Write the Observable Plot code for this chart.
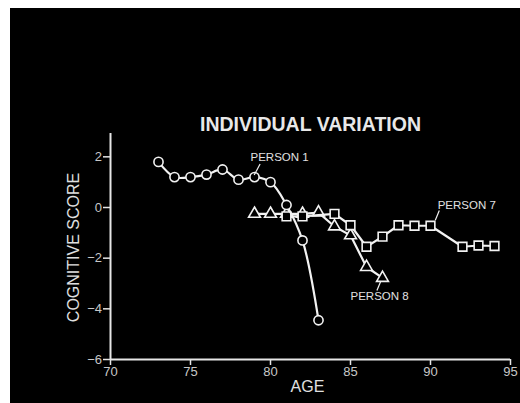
<!DOCTYPE html>
<html>
<head>
<meta charset="utf-8">
<script src="https://cdn.jsdelivr.net/npm/d3@7"></script>
<script src="https://cdn.jsdelivr.net/npm/@observablehq/plot@0.6"></script>
<style>
  html, body { margin: 0; padding: 0; background: #ffffff; width: 520px; height: 403px; overflow: hidden; }
  #panel { position: absolute; left: 10px; top: 8px; width: 510px; height: 395px; background: #000; }
  #panel svg { display: block; }
</style>
</head>
<body>
<div id="panel"></div>
<script>
// Data
const p1Age = [73, 74, 75, 76, 77, 78, 79, 80, 81, 82, 83];
const p1Score = [1.8, 1.2, 1.2, 1.3, 1.5, 1.1, 1.2, 1.0, 0.1, -1.3, -4.45];

const p7Age = [81, 82, 84, 85, 86, 87, 88, 89, 90, 92, 93, 94];
const p7Score = [-0.35, -0.35, -0.25, -0.7, -1.55, -1.15, -0.7, -0.72, -0.72, -1.55, -1.5, -1.52];

const p8Age = [79, 80, 81, 82, 83, 84, 85, 86, 87];
const p8Score = [-0.25, -0.25, -0.25, -0.25, -0.2, -0.75, -1.1, -2.35, -2.78];

const xTicks = [70, 75, 80, 85, 90, 95];
const yTicks = [-6, -4, -2, 0, 2];

const labelNames = ["PERSON 1", "PERSON 7", "PERSON 8"];
const labelAge = [78.75, 90.45, 85.0];
const labelScore = [1.97, 0.08, -3.52];
const leaderAge1 = [79.35, 90.55, 86.9];
const leaderScore1 = [1.72, -0.12, -2.9];
const leaderAge2 = [78.98, 90.3, 86.65];
const leaderScore2 = [1.28, -0.5, -3.28];

const toRows = (ages, scores) => ages.map((a, i) => ({age: a, score: scores[i]}));
const p1 = toRows(p1Age, p1Score);
const p7 = toRows(p7Age, p7Score);
const p8 = toRows(p8Age, p8Score);
const labels = labelNames.map((n, i) => ({name: n, age: labelAge[i], score: labelScore[i]}));
const leaders = labelNames.map((n, i) => ({x1: leaderAge1[i], y1: leaderScore1[i], x2: leaderAge2[i], y2: leaderScore2[i]}));

const W = "#f2f2f2";
const font = "'Liberation Sans', Arial, Helvetica, sans-serif";

const chart = Plot.plot({
  width: 510,
  height: 395,
  marginLeft: 100,
  marginRight: 10,
  marginTop: 123,
  marginBottom: 44,
  style: {background: "#000", fontFamily: font, color: W},
  x: {domain: [70, 95]},
  y: {domain: [-6, 3]},
  marks: [
    Plot.axisX({ticks: xTicks, tickSize: 6, tickPadding: 1, fontSize: 13, fill: "#c8c8c8", stroke: "#e6e6e6", strokeWidth: 1.5, label: null}),
    Plot.axisY({ticks: yTicks, tickSize: 7, tickPadding: 1.5, fontSize: 13, fill: "#c8c8c8", stroke: "#e6e6e6", strokeWidth: 1.5, label: null}),
    Plot.ruleY([-6], {stroke: "#e6e6e6", strokeWidth: 2}),
    Plot.ruleX([70], {y1: -6, y2: 2.92, stroke: "#e6e6e6", strokeWidth: 2}),
    // Person 8
    Plot.line(p8, {x: "age", y: "score", stroke: W, strokeWidth: 2.2}),
    Plot.dot(p8, {x: "age", y: "score", symbol: "triangle", r: 4.4, stroke: W, strokeWidth: 1.6, fill: "#000"}),
    // Person 7
    Plot.line(p7, {x: "age", y: "score", stroke: W, strokeWidth: 2.2}),
    Plot.dot(p7, {x: "age", y: "score", symbol: "square", r: 4.9, stroke: W, strokeWidth: 1.6, fill: "#000"}),
    // Person 1
    Plot.line(p1, {x: "age", y: "score", stroke: W, strokeWidth: 2.2, curve: "catmull-rom"}),
    Plot.dot(p1, {x: "age", y: "score", symbol: "circle", r: 4.6, stroke: W, strokeWidth: 1.6, fill: "#000"}),
    // annotations
    Plot.link(leaders, {x1: "x1", y1: "y1", x2: "x2", y2: "y2", stroke: W, strokeWidth: 1.2}),
    Plot.text(labels, {x: "age", y: "score", text: "name", textAnchor: "start", fontSize: 11.5, fill: "#e0e0e0"}),
    // titles
    Plot.text(["INDIVIDUAL VARIATION"], {frameAnchor: "top", textAnchor: "middle", dy: -14, fontSize: 19.5, fontWeight: "bold", fill: "#e8e8e8"}),
    Plot.text(["COGNITIVE SCORE"], {frameAnchor: "left", textAnchor: "middle", dx: -37, dy: 2, rotate: -90, fontSize: 16, fill: "#e0e0e0"}),
    Plot.text(["AGE"], {frameAnchor: "bottom", textAnchor: "middle", dy: 32, dx: -3, fontSize: 16, fill: "#e0e0e0"})
  ]
});
document.getElementById("panel").appendChild(chart);
</script>
</body>
</html>
